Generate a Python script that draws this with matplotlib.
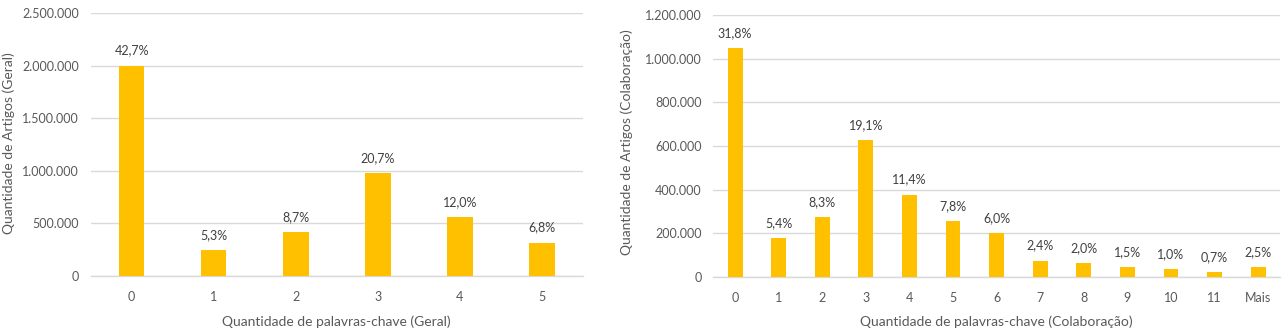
import matplotlib
matplotlib.use("Agg")
import matplotlib.pyplot as plt
from matplotlib.ticker import FuncFormatter, MultipleLocator

# --- data ---
geral_cats = ["0", "1", "2", "3", "4", "5"]
geral_vals = [2000000, 245000, 415000, 975000, 563000, 318000]
geral_pct = ["42,7%", "5,3%", "8,7%", "20,7%", "12,0%", "6,8%"]

colab_cats = ["0", "1", "2", "3", "4", "5", "6", "7", "8", "9", "10", "11", "Mais"]
colab_vals = [1050000, 177000, 275000, 627000, 378000, 258000, 200000,
              75000, 63000, 46000, 35000, 23000, 46000]
colab_pct = ["31,8%", "5,4%", "8,3%", "19,1%", "11,4%", "7,8%", "6,0%",
             "2,4%", "2,0%", "1,5%", "1,0%", "0,7%", "2,5%"]

plt.rcParams['font.family'] = ['Lato', 'DejaVu Sans']

BAR = "#FFC000"
GRID = "#D9D9D9"
TXT = "#595959"


def br_thousands(v, pos):
    return f"{v:,.0f}".replace(",", ".")


def draw(ax, cats, vals, pcts, ymax, step, width, ylabel, xlabel, ylab_x, ylab_y):
    x = range(len(cats))
    bars = ax.bar(x, vals, width=width, color=BAR, zorder=3)
    for b, p in zip(bars, pcts):
        ax.annotate(p, (b.get_x() + b.get_width() / 2, b.get_height()),
                    xytext=(0, 6.5), textcoords="offset points",
                    ha="center", va="bottom", fontsize=9, color="#404040")
    ax.set_xlim(-0.5, len(cats) - 0.5)
    ax.set_ylim(0, ymax)
    ax.yaxis.set_major_locator(MultipleLocator(step))
    ax.yaxis.set_major_formatter(FuncFormatter(br_thousands))
    ax.set_xticks(list(x))
    ax.set_xticklabels(cats)
    ax.grid(axis="y", color=GRID, linewidth=1, zorder=0)
    for s in ["top", "right", "left"]:
        ax.spines[s].set_visible(False)
    ax.spines["bottom"].set_color(GRID)
    ax.spines["bottom"].set_linewidth(1)
    ax.tick_params(axis="both", length=0, labelsize=9, colors=TXT)
    ax.tick_params(axis="y", pad=8.5)
    ax.tick_params(axis="x", pad=11)
    ax.set_ylabel(ylabel, fontsize=10, color=TXT)
    ax.set_xlabel(xlabel, fontsize=10, color=TXT)
    ax.yaxis.set_label_coords(ylab_x, ylab_y)
    ax.xaxis.set_label_coords(0.5, -0.148)


fig = plt.figure(figsize=(12.88, 3.33), dpi=100)
ax1 = fig.add_axes([0.0704, 0.171, 0.3822, 0.790])
ax2 = fig.add_axes([0.5538, 0.168, 0.4400, 0.787])

draw(ax1, geral_cats, geral_vals, geral_pct, 2500000, 500000, 0.31,
     "Quantidade de Artigos (Geral)", "Quantidade de palavras-chave (Geral)",
     -0.154, 0.506)
draw(ax2, colab_cats, colab_vals, colab_pct, 1200000, 200000, 0.34,
     "Quantidade de Artigos (Colaboração)",
     "Quantidade de palavras-chave (Colaboração)", -0.142, 0.515)

fig.savefig("out.png", dpi=100)
